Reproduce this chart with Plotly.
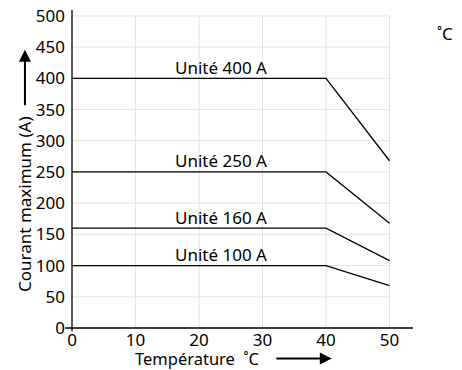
import plotly.graph_objects as go

# data
temperature = [0, 40, 50]
labels = ["Unité 400 A", "Unité 250 A", "Unité 160 A", "Unité 100 A"]
current_400 = [400, 400, 268]
current_250 = [250, 250, 168]
current_160 = [160, 160, 108]
current_100 = [100, 100, 68]
series = [current_400, current_250, current_160, current_100]

x_ticks = [0, 10, 20, 30, 40, 50]
y_ticks = [0, 50, 100, 150, 200, 250, 300, 350, 400, 450, 500]

FONT = "Noto Sans"
SIZE = 17

fig = go.Figure()

# grid drawn only over the 0-50 / 0-500 box
for xv in x_ticks[1:]:
    fig.add_shape(type="line", x0=xv, x1=xv, y0=0, y1=y_ticks[-1],
                  line=dict(color="#e3e3e3", width=1), layer="below")
for yv in y_ticks[1:]:
    fig.add_shape(type="line", x0=0, x1=x_ticks[-1], y0=yv, y1=yv,
                  line=dict(color="#e3e3e3", width=1), layer="below")

for name, vals in zip(labels, series):
    fig.add_trace(go.Scatter(x=temperature, y=vals, mode="lines", name=name,
                             line=dict(color="black", width=1.3)))
    fig.add_annotation(x=23.5, y=vals[0], text=name, showarrow=False,
                       xanchor="center", yanchor="middle", yshift=11,
                       font=dict(family=FONT, size=SIZE, color="black"))

# axis lines (slightly crossing at the origin)
fig.add_shape(type="line", xref="paper", yref="paper", x0=-0.02, x1=1, y0=0, y1=0,
              line=dict(color="black", width=1.3))
fig.add_shape(type="line", xref="paper", yref="paper", x0=0, x1=0, y0=-0.01, y1=1,
              line=dict(color="black", width=1.3))

# axis titles with arrows
fig.add_annotation(xref="paper", yref="paper", x=-0.138, y=0.39,
                   text="Courant maximum (A)", textangle=-90, showarrow=False,
                   xanchor="center", yanchor="middle",
                   font=dict(family=FONT, size=SIZE, color="black"))
fig.add_annotation(xref="paper", yref="paper", x=-0.138, y=0.875,
                   ax=0, ay=57, text="", showarrow=True, arrowhead=2,
                   arrowsize=1.2, arrowwidth=2, arrowcolor="black")
fig.add_annotation(xref="paper", yref="paper", x=0.367, y=-0.096,
                   text="Température  ˚C", showarrow=False,
                   xanchor="center", yanchor="middle",
                   font=dict(family=FONT, size=16.5, color="black"))
fig.add_annotation(xref="paper", yref="paper", x=0.762, y=-0.096,
                   ax=-57, ay=0, text="", showarrow=True, arrowhead=2,
                   arrowsize=1.2, arrowwidth=2, arrowcolor="black")
fig.add_annotation(xref="paper", yref="paper", x=1.094, y=0.925,
                   text="˚C", showarrow=False, xanchor="center", yanchor="middle",
                   font=dict(family=FONT, size=SIZE, color="black"))

fig.update_layout(
    width=462, height=370,
    margin=dict(l=64, r=57, t=2, b=50),
    paper_bgcolor="white", plot_bgcolor="white",
    showlegend=False,
    font=dict(family=FONT, size=SIZE, color="black"),
)
fig.update_xaxes(range=[0, 53.7], tickvals=x_ticks, showgrid=False,
                 zeroline=False, showline=False, ticks="", ticklabelstandoff=0,
                 ticklabeloverflow="allow", automargin=False)
fig.update_yaxes(range=[0, 509.5], tickvals=y_ticks, showgrid=False,
                 zeroline=False, showline=False, ticks="", ticklabelstandoff=6,
                 ticklabeloverflow="allow", automargin=False)

fig.write_html("out.html")
